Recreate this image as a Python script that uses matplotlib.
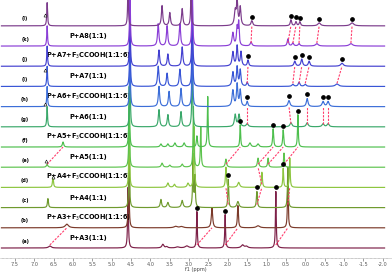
import numpy as np
import matplotlib.pyplot as plt

# spectra from bottom (a) to top (l): peaks as (ppm, height, half-width)
letters = ['(a)', '(b)', '(c)', '(d)', '(e)', '(f)', '(g)', '(h)', '(i)', '(j)', '(k)', '(l)']
names = ['P+A3(1:1)', 'P+A3+F$_3$CCOOH(1:1:6)', 'P+A4(1:1)', 'P+A4+F$_3$CCOOH(1:1:6)',
         'P+A5(1:1)', 'P+A5+F$_3$CCOOH(1:1:6)', 'P+A6(1:1)', 'P+A6+F$_3$CCOOH(1:1:6)',
         'P+A7(1:1)', 'P+A7+F$_3$CCOOH(1:1:6)', 'P+A8(1:1)', '']
colors = ['#7d2048', '#7b3a2a', '#6f9a2e', '#8dc63f', '#5dc34d', '#4dbf4d',
          '#3aa86a', '#3c6ed8', '#3855d6', '#4340d0', '#8a3ed6', '#7b3b8b']

peaks_a = [(6.60, 0.10, 0.04), (4.58, 3.0, 0.012), (3.68, 0.18, 0.03), (3.58, 0.06, 0.03),
           (3.30, 0.05, 0.05), (3.06, 0.10, 0.05), (2.80, 1.8, 0.012), (2.07, 1.65, 0.012),
           (1.62, 0.15, 0.04), (1.52, 0.08, 0.04), (0.76, 2.8, 0.012)]
peaks_b = [(6.16, 0.18, 0.05), (4.56, 3.0, 0.012), (3.35, 0.07, 0.05), (3.20, 0.06, 0.05),
           (2.41, 1.0, 0.02), (1.74, 1.1, 0.015), (1.22, 0.10, 0.05), (0.45, 2.4, 0.012)]
peaks_c = [(6.65, 0.45, 0.015), (4.55, 3.0, 0.012), (3.73, 0.40, 0.02), (3.55, 0.25, 0.025),
           (3.18, 0.35, 0.025), (2.90, 2.6, 0.012), (2.85, 1.5, 0.012), (1.99, 1.4, 0.012),
           (1.74, 0.3, 0.03), (1.25, 0.8, 0.015), (0.45, 2.0, 0.012)]
peaks_d = [(6.52, 0.5, 0.015), (4.55, 3.0, 0.012), (3.55, 0.22, 0.025), (3.38, 0.15, 0.025),
           (3.03, 0.2, 0.025), (2.87, 3.0, 0.012), (2.05, 1.0, 0.015), (1.72, 0.25, 0.03),
           (1.12, 0.75, 0.015), (0.57, 0.95, 0.012), (0.40, 1.45, 0.012)]
peaks_e = [(6.67, 0.15, 0.02), (4.55, 3.0, 0.012), (3.70, 0.2, 0.025), (3.50, 0.1, 0.025),
           (3.18, 0.15, 0.025), (2.89, 3.0, 0.012), (2.70, 2.0, 0.012), (2.05, 0.4, 0.02),
           (1.22, 0.45, 0.02), (0.96, 0.45, 0.015), (0.55, 0.7, 0.012)]
peaks_f = [(6.26, 0.25, 0.02), (4.55, 3.0, 0.012), (3.73, 0.15, 0.025), (3.55, 0.15, 0.025),
           (3.37, 0.2, 0.025), (3.13, 0.2, 0.025), (2.80, 0.55, 0.015), (2.52, 2.5, 0.012),
           (1.68, 1.1, 0.012), (1.43, 0.2, 0.03), (1.22, 0.15, 0.03), (0.83, 0.9, 0.015),
           (0.57, 0.85, 0.015), (0.19, 1.6, 0.012)]
peaks_g = [(6.67, 1.0, 0.012), (4.53, 3.0, 0.012), (3.78, 0.85, 0.02), (3.55, 0.6, 0.02),
           (3.21, 0.75, 0.02), (2.92, 3.5, 0.012), (1.81, 0.6, 0.025), (1.71, 0.6, 0.025),
           (1.50, 0.15, 0.03), (0.37, 0.2, 0.03), (-0.05, 0.2, 0.03), (-0.46, 0.15, 0.03),
           (-0.59, 0.15, 0.03)]
peaks_h = [(6.67, 1.0, 0.012), (4.53, 3.0, 0.012), (3.78, 1.0, 0.02), (3.52, 0.75, 0.02),
           (3.21, 0.9, 0.02), (2.92, 3.5, 0.012), (1.87, 0.8, 0.025), (1.76, 1.1, 0.02),
           (1.68, 0.8, 0.02), (1.50, 0.25, 0.02), (0.42, 0.3, 0.03), (-0.05, 0.4, 0.025),
           (-0.46, 0.25, 0.03), (-0.59, 0.25, 0.03)]
peaks_i = [(6.67, 1.0, 0.012), (4.53, 3.0, 0.012), (3.80, 1.0, 0.02), (3.57, 0.65, 0.02),
           (3.24, 0.85, 0.02), (2.92, 3.5, 0.012), (1.87, 0.7, 0.025), (1.76, 0.95, 0.02),
           (1.68, 0.8, 0.02), (1.50, 0.2, 0.02), (0.32, 0.1, 0.03), (0.16, 0.2, 0.025),
           (0.00, 0.1, 0.03), (-0.82, 0.12, 0.05)]
peaks_j = [(6.67, 1.0, 0.012), (4.53, 3.0, 0.012), (3.78, 0.8, 0.02), (3.55, 0.6, 0.02),
           (3.18, 0.95, 0.02), (2.92, 3.5, 0.012), (1.87, 0.7, 0.025), (1.76, 1.0, 0.02),
           (1.66, 0.7, 0.02), (1.48, 0.3, 0.02), (0.27, 0.25, 0.025), (0.09, 0.35, 0.025),
           (-0.10, 0.25, 0.025), (-0.95, 0.15, 0.04)]
peaks_k = [(6.67, 1.0, 0.012), (4.53, 3.0, 0.012), (3.80, 1.1, 0.02), (3.57, 1.0, 0.02),
           (3.24, 1.1, 0.02), (2.92, 3.5, 0.012), (1.87, 0.65, 0.025), (1.76, 0.9, 0.02),
           (1.72, 1.1, 0.015), (1.40, 0.2, 0.025), (0.45, 0.35, 0.02), (0.32, 0.15, 0.025),
           (0.16, 0.12, 0.025), (-0.30, 0.12, 0.04), (-1.18, 0.12, 0.05)]
peaks_l = [(6.67, 1.15, 0.012), (4.58, 2.0, 0.012), (3.70, 1.0, 0.02), (3.50, 0.65, 0.02),
           (3.18, 0.85, 0.02), (2.95, 2.0, 0.012), (1.81, 0.7, 0.025), (1.76, 1.2, 0.02),
           (1.68, 0.9, 0.02), (1.38, 0.25, 0.025), (0.37, 0.3, 0.02), (0.24, 0.2, 0.02),
           (0.14, 0.2, 0.02), (-0.36, 0.15, 0.04), (-1.21, 0.15, 0.05)]
all_peaks = [peaks_a, peaks_b, peaks_c, peaks_d, peaks_e, peaks_f,
             peaks_g, peaks_h, peaks_i, peaks_j, peaks_k, peaks_l]

# marked signals (black dots)
dots = {0: [2.80, 2.07, 0.76], 2: [1.99, 1.25], 3: [0.57],
        5: [1.68, 0.83, 0.57, 0.19], 7: [1.50, 0.42, -0.05, -0.46, -0.59],
        9: [1.48, 0.27, 0.09, -0.10, -0.95], 11: [1.38, 0.37, 0.24, 0.14, -0.36, -1.21]}
# shift links: (lower spectrum, ppm in lower, ppm in upper)
links = [(0, 6.60, 6.16), (0, 2.80, 2.41), (0, 2.07, 1.74), (0, 0.76, 0.45),
         (2, 1.99, 2.05), (2, 1.25, 1.12), (2, 0.45, 0.40), (3, 1.12, 1.22),
         (4, 6.67, 6.26), (4, 2.05, 1.68), (4, 1.22, 0.83), (4, 0.96, 0.57), (4, 0.55, 0.19),
         (6, 1.50, 1.50), (6, 0.37, 0.42), (6, -0.05, -0.05), (6, -0.46, -0.46), (6, -0.59, -0.59),
         (8, 1.50, 1.48), (8, 0.32, 0.27), (8, 0.16, 0.09), (8, 0.00, -0.10), (8, -0.82, -0.95),
         (10, 1.40, 1.38), (10, 0.45, 0.37), (10, 0.32, 0.24), (10, 0.16, 0.14),
         (10, -0.30, -0.36), (10, -1.18, -1.21)]
triangles = [(11, 6.72, 0.55), (8, 6.72, 0.8), (7, 6.72, 0.15), (4, 6.70, 0.3), (3, 6.52, 0.5)]

ppm = np.linspace(7.85, -2.05, 9000)


def spectrum(peaks):
    y = np.zeros_like(ppm)
    for x0, h, w in peaks:
        y += h / (1 + ((ppm - x0) / w) ** 2)
    return y


fig = plt.figure(figsize=(3.92, 2.74), dpi=100)
ax = fig.add_axes([0, 0.0584, 1, 0.9416])

curves = []
for i, pk in enumerate(all_peaks):
    y = spectrum(pk) + i
    curves.append(y)
    ax.plot(ppm, y, color=colors[i], lw=0.85, zorder=3 + i * 0.01)
    ax.text(7.24, i + 0.22, letters[i], fontsize=3.6, fontweight='bold', ha='center', va='bottom')
    if names[i]:
        ax.text(5.60, i + 0.5, names[i], fontsize=4.7, fontweight='bold', ha='center', va='center')

for i, vals in dots.items():
    for v in vals:
        m = np.abs(ppm - v) < 0.03
        top = curves[i][m].max()
        ax.plot(v, top + 0.2, 'o', color='black', ms=2.4, zorder=6)

for i, lo, up in links:
    ax.plot([lo, up], [i + 0.15, i + 1.0], color='#ff3b6b', lw=0.8, ls=(0, (2, 1.2)), zorder=5)

for i, v, dy in triangles:
    ax.plot(v, i + dy, marker='^', ms=2.2, mfc='white', mec='black', mew=0.4, ls='none', zorder=6)

ax.set_xlim(7.888, -2.242)
ax.set_ylim(-0.495, 12.28)
ax.set_xticks(np.arange(7.5, -2.01, -0.5))
ax.set_xticklabels(['%.1f' % t for t in np.arange(7.5, -2.01, -0.5)])
ax.set_xticks(np.arange(7.8, -2.11, -0.1), minor=True)
ax.tick_params(axis='x', labelsize=3.6, colors='#555555', length=2, width=0.4, pad=1)
ax.tick_params(axis='x', which='minor', length=1, width=0.3, colors='#777777')
ax.set_yticks([])
for s in ['top', 'left', 'right']:
    ax.spines[s].set_visible(False)
ax.spines['bottom'].set_color('#bbbbbb')
ax.spines['bottom'].set_linewidth(0.4)
ax.set_xlabel('f1 (ppm)', fontsize=3.6, color='#444444', labelpad=0)

plt.savefig('out.png', dpi=100)
